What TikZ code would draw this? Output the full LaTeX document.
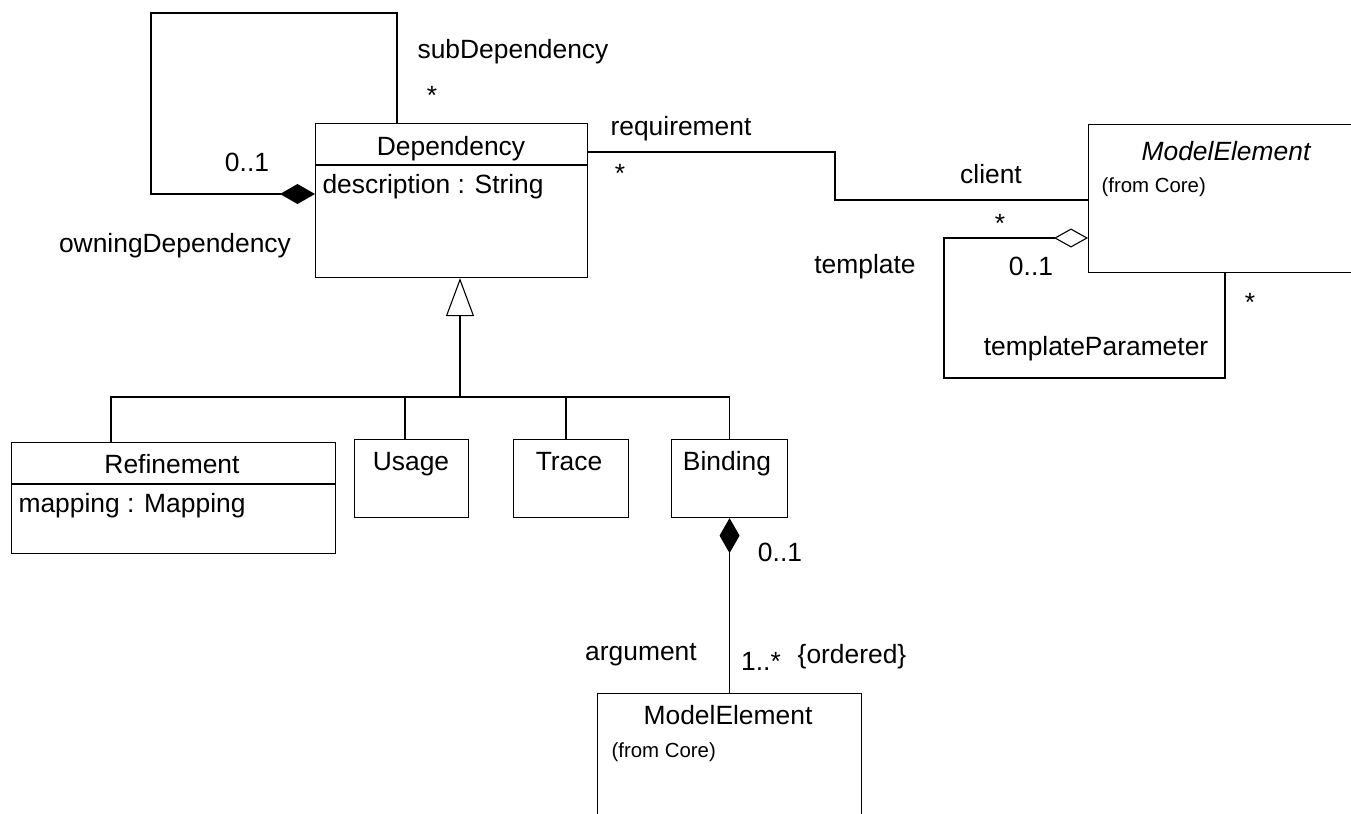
\documentclass[tikz,border=0pt]{standalone}
\usepackage{fontspec}
\setmainfont{Liberation Sans}
\usetikzlibrary{arrows.meta,positioning}

\tikzset{
  classbox/.style={draw, rectangle, anchor=north west, inner sep=0pt},
  txt/.style={inner sep=0pt, anchor=base, font=\fontsize{13.2}{16}\selectfont},
  attr/.style={txt, anchor=base west},
  fromnote/.style={inner sep=0pt, anchor=base west, font=\fontsize{10.2}{12}\selectfont},
  composite/.style={{Diamond[length=17.5pt,width=10pt]}-},
  shared/.style={{Diamond[open,length=17pt,width=9.5pt]}-},
  inherit/.style={-{Triangle[open,length=19pt,width=14pt]}}
}

\begin{document}
\begin{tikzpicture}[x=0.5pt,y=-0.5pt,line width=0.55pt]
  \useasboundingbox (0,0) rectangle (1351,814);
  \clip (0,0) rectangle (1351,814);

  % classes
  \node[classbox, minimum width=136pt, minimum height=77pt]   (dep)    at (315,123)  {};
  \node[classbox, minimum width=150pt, minimum height=74pt]   (melem)  at (1088,124) {};
  \node[classbox, minimum width=162pt, minimum height=55.5pt] (refine) at (11,442)   {};
  \node[classbox, minimum width=57pt,  minimum height=39pt]   (usage)  at (354,439)  {};
  \node[classbox, minimum width=57.5pt,minimum height=39pt]   (trace)  at (513,439)  {};
  \node[classbox, minimum width=58pt,  minimum height=39pt]   (bind)   at (671,439)  {};
  \node[classbox, minimum width=132pt, minimum height=80pt]   (arg)    at (597,693)  {};

  \draw (dep.west |- 0,165) -- (dep.east |- 0,165);
  \draw (refine.west |- 0,484) -- (refine.east |- 0,484);

  \node[txt]  (depname)   at (451,155) {Dependency};
  \node[attr] (depattr)   at (322,193) {description : String};
  \node[txt]  (melemname) at (1226,160) {\itshape ModelElement};
  \node[fromnote] (melemfrom) at (1101,192) {(from Core)};
  \node[txt]  (refname)   at (172,473) {Refinement};
  \node[attr] (refattr)   at (18,512)  {mapping : Mapping};
  \node[txt]  (usagename) at (411,470) {Usage};
  \node[txt]  (tracename) at (569,470) {Trace};
  \node[txt]  (bindname)  at (727,470) {Binding};
  \node[txt]  (argname)   at (728,724) {ModelElement};
  \node[fromnote] (argfrom) at (611,757) {(from Core)};

  % subDependency loop
  \draw[composite] (dep.west |- 0,194) -| (151,13) -| (dep.north -| 397,0);
  \node[txt] (subrole)   at (513,58)  {subDependency};
  \node[txt] (submult)   at (432,104) {*};
  \node[txt] (ownmult)   at (247,171) {0..1};
  \node[txt] (ownrole)   at (175,252) {owningDependency};

  % requirement / client
  \draw (dep.east |- 0,152) -| (835,200) -- (melem.west |- 0,200);
  \node[txt] (reqrole)   at (681,135)  {requirement};
  \node[txt] (reqmult)   at (620,182)  {*};
  \node[txt] (clirole)   at (991,183)  {client};
  \node[txt] (climult)   at (1000,232) {*};

  % template loop
  \draw[shared] (melem.west |- 0,238) -- (944,238) |- (1225,378) -- (melem.south -| 1225,0);
  \node[txt] (temprole)  at (865,273)  {template};
  \node[txt] (tempmult)  at (1031,275) {0..1};
  \node[txt] (parmult)   at (1250,311) {*};
  \node[txt] (parrole)   at (1096,355) {templateParameter};

  % generalization
  \coordinate (fork) at (460,397);
  \draw[inherit] (fork) -- (fork |- dep.south);
  \draw (refine.north -| 111,0) |- (bind.north |- fork) -- (bind.north);
  \draw (usage.north -| 405,0) -- (fork -| 405,0);
  \draw (trace.north -| 566,0) -- (fork -| 566,0);

  % argument
  \draw[composite] (bind.south) -- (arg.north);
  \node[txt] (bindmult)  at (780,561) {0..1};
  \node[txt] (argrole)   at (641,660) {argument};
  \node[txt] (argmult)   at (761,670) {1..*};
  \node[txt] (argorder)  at (852,663) {\{ordered\}};
\end{tikzpicture}
\end{document}
